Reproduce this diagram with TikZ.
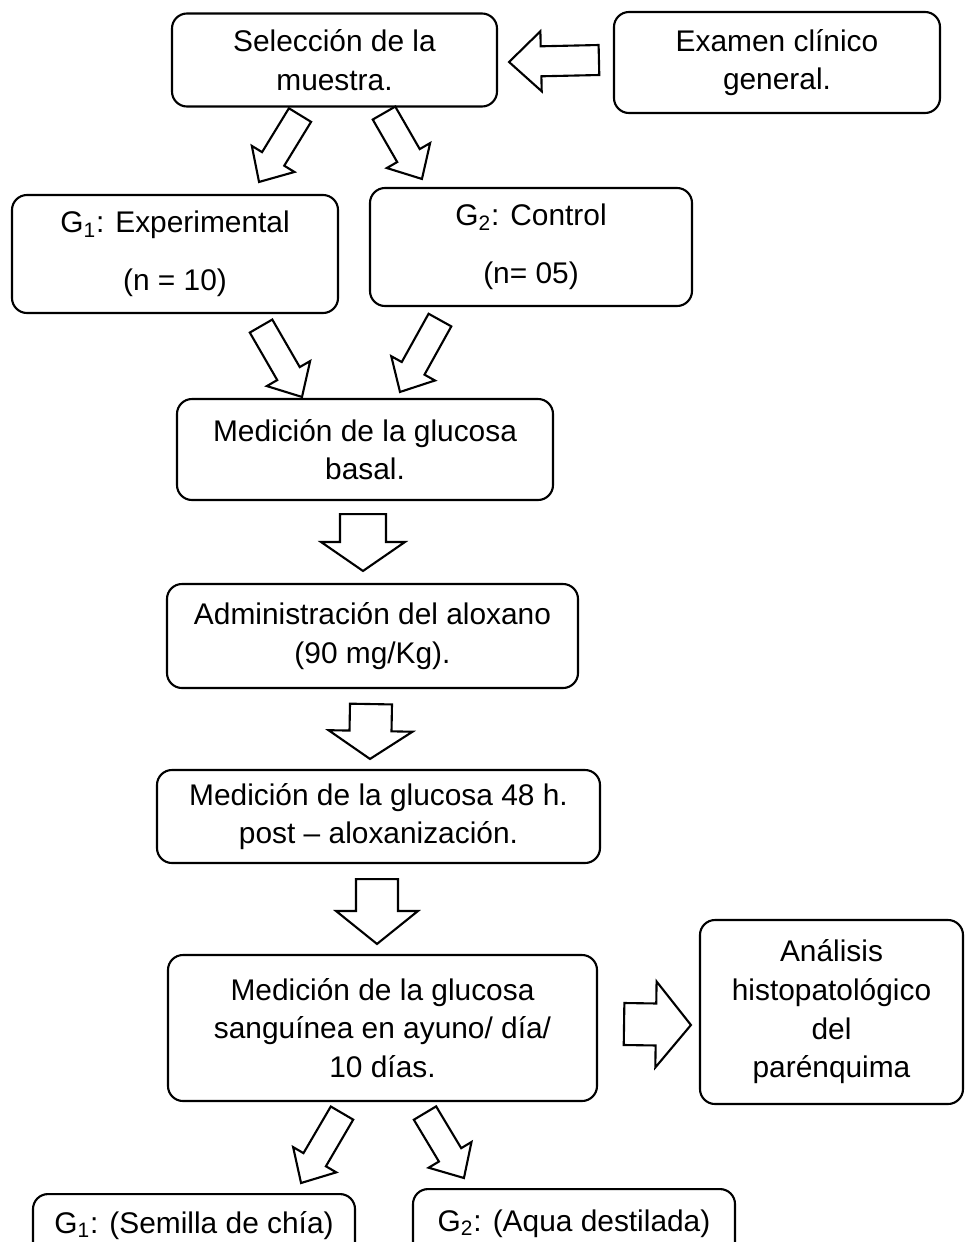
\documentclass[tikz,border=0pt]{standalone}
\usepackage{fontspec}
\setmainfont{Liberation Sans}
\usetikzlibrary{calc}

% hollow block arrow: tail, tip, half shaft width, half head width, head length
\newcommand{\flecha}[5]{%
    \coordinate (fa) at (#1);
    \coordinate (fb) at (#2);
    \coordinate (fm) at ($(fb)!#5!(fa)$);
    \draw[bloque] ($(fa)!#3!90:(fb)$) -- ($(fm)!#3!-90:(fa)$) -- ($(fm)!#4!-90:(fa)$) -- (fb)
        -- ($(fm)!#4!90:(fa)$) -- ($(fm)!#3!90:(fa)$) -- ($(fa)!#3!-90:(fb)$) -- cycle;
}

\tikzset{
    caja/.style={draw, rounded corners=0.3cm, line width=1.2pt, align=center,
        font=\fontsize{17}{22}\selectfont},
    bloque/.style={draw, line width=1.2pt, fill=white}
}

\begin{document}
\begin{tikzpicture}
        \useasboundingbox (0,0) rectangle (19.42,-24.84);
        % Below nodes are the boxes.
            \node[caja, minimum width=6.5cm, minimum height=1.86cm] (sel) at (6.69,-1.2) {Selección de la\\muestra.};
            \node[caja, minimum width=6.52cm, minimum height=2.02cm] (exam) at (15.54,-1.25) {Examen clínico\\general.};
            \node[caja, minimum width=6.52cm, minimum height=2.36cm] (g1) at (3.5,-5.08) {G\textsubscript{1}: Experimental\\[0.38cm](n = 10)};
            \node[caja, minimum width=6.44cm, minimum height=2.36cm] (g2) at (10.62,-4.94) {G\textsubscript{2}: Control\\[0.38cm](n= 05)};
            \node[caja, minimum width=7.52cm, minimum height=2.02cm] (basal) at (7.3,-8.99) {Medición de la glucosa\\basal.};
            \node[caja, minimum width=8.22cm, minimum height=2.08cm] (admin) at (7.45,-12.72) {Administración del aloxano\\(90 mg/Kg).};
            \node[caja, minimum width=8.86cm, minimum height=1.86cm] (m48) at (7.57,-16.33) {Medición de la glucosa 48 h.\\post -- aloxanización.};
            \node[caja, minimum width=8.58cm, minimum height=2.92cm] (ayuno) at (7.65,-20.56) {Medición de la glucosa\\sanguínea en ayuno/ día/\\10 días.};
            \node[caja, minimum width=5.26cm, minimum height=3.68cm] (analisis) at (16.63,-20.24) {Análisis\\histopatológico\\del\\parénquima};
            \node[caja, anchor=north, minimum width=6.44cm, inner ysep=0.1cm, text height=0.68cm, text depth=1cm] (g1b) at (3.88,-23.86) {G\textsubscript{1}: (Semilla de chía)};
            \node[caja, anchor=north, minimum width=6.44cm, inner ysep=0.1cm, text height=0.74cm, text depth=1cm] (g2b) at (11.48,-23.76) {G\textsubscript{2}: (Aqua destilada)};
        % This draws the block arrows.
            \flecha{$(exam.west)+(-0.28,0.05)$}{$(sel.east)+(0.22,-0.04)$}{0.3cm}{0.6cm}{0.64cm}
            \flecha{$(sel.south)+(-0.69,-0.15)$}{$(g1.north east)+(-1.6,0.24)$}{0.26cm}{0.5cm}{0.54cm}
            \flecha{$(sel.south)+(0.99,-0.11)$}{$(g2.north west)+(1.06,0.16)$}{0.26cm}{0.5cm}{0.54cm}
            \flecha{$(g1.south east)+(-1.56,-0.24)$}{$(basal.north)+(-1.26,0.02)$}{0.26cm}{0.5cm}{0.54cm}
            \flecha{$(g2.south west)+(1.42,-0.26)$}{$(basal.north)+(0.7,0.12)$}{0.26cm}{0.5cm}{0.54cm}
            \flecha{$(basal.south)+(-0.04,-0.26)$}{$(admin.north)+(-0.19,0.24)$}{0.46cm}{0.84cm}{0.58cm}
            \flecha{$(admin.south)+(-0.03,-0.3)$}{$(m48.north)+(-0.17,0.2)$}{0.42cm}{0.84cm}{0.56cm}
            \flecha{$(m48.south)+(-0.03,-0.3)$}{$(ayuno.north)+(-0.11,0.2)$}{0.42cm}{0.82cm}{0.66cm}
            \flecha{$(ayuno.east)+(0.52,0.08)$}{$(analisis.west)+(-0.16,-0.26)$}{0.42cm}{0.86cm}{0.7cm}
            \flecha{$(ayuno.south)+(-0.81,-0.22)$}{$(g1b.north east)+(-1.1,0.2)$}{0.26cm}{0.5cm}{0.54cm}
            \flecha{$(ayuno.south)+(0.85,-0.22)$}{$(g2b.north west)+(1.04,0.2)$}{0.26cm}{0.5cm}{0.54cm}
    \end{tikzpicture}
\end{document}
